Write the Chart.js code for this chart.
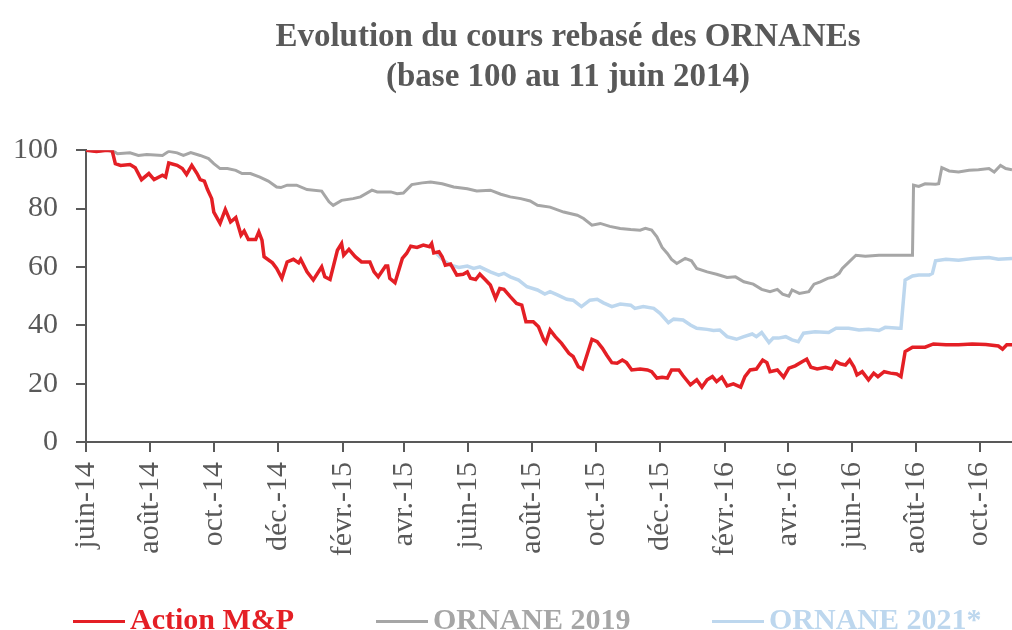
<!DOCTYPE html>
<html>
<head>
<meta charset="utf-8">
<script src="https://cdn.jsdelivr.net/npm/chart.js@4.4.1/dist/chart.umd.min.js"></script>
<style>
  html, body { margin: 0; padding: 0; background: #ffffff; }
  #wrap { position: relative; width: 1012px; height: 630px; overflow: hidden; }
  canvas { display: block; }
  .lg-item { position: absolute; top: 604px; height: 30px; }
  .lg-line { position: absolute; left: 0; top: 15.5px; width: 52px; height: 3px; }
  .lg-text { position: absolute; left: 57px; top: 0; line-height: 30px; white-space: nowrap;
             font-family: 'Liberation Serif', 'Times New Roman', serif; font-weight: bold; font-size: 30px; }
</style>
</head>
<body>
<div id="wrap">
  <canvas id="chart" width="1012" height="630"></canvas>
  <div id="legend"></div>
</div>
<script>
// x values are days since 11 June 2014 (base date of the rebasing)
const tickDays = [0, 61, 122, 183, 245, 304, 365, 426, 487, 548, 610, 670, 731, 792, 853];
const tickLabels = ['juin-14', 'août-14', 'oct.-14', 'déc.-14', 'févr.-15', 'avr.-15', 'juin-15',
  'août-15', 'oct.-15', 'déc.-15', 'févr.-16', 'avr.-16', 'juin-16', 'août-16', 'oct.-16'];

// [day, rebased value]
const actionMP = [[0,100],[10,99.6],[20,100],[25,99.8],[28,95.4],[33,94.8],[42,95.1],[47,94],[53,89.9],[60,92],
  [65,89.9],[73,91.4],[76,90.8],[79,95.6],[87,94.8],[92,93.7],[96,91.7],[101,94.8],[106,92],[109,89.9],
  [113,89.4],[116,86.5],[120,83.4],[122,78.8],[128,74.9],[133,79.7],[138,75.4],[143,76.9],[148,70.9],[151,72.3],
  [155,69.4],[162,69.4],[165,72],[168,69.2],[170,63.5],[178,61.4],[182,59.5],[187,56.1],[192,61.7],[198,62.6],
  [203,61.4],[205,62.6],[211,58.3],[217,55.5],[225,60],[228,56.6],[233,55.7],[240,65.7],[244,68],[246,64],
  [251,66],[257,63.5],[263,61.7],[271,61.7],[275,58.3],[279,56.6],[286,60.3],[288,60.3],[290,56.1],[295,54.6],
  [302,62.9],[306,64.6],[310,67.1],[316,66.7],[322,67.5],[328,66.9],[330,68],[332,64.8],[337,65.2],[340,63.5],
  [343,60.6],[348,61],[354,57.2],[360,57.5],[364,58.3],[367,56.1],[372,55.7],[376,57.5],[381,55.7],[386,53.8],
  [391,49.2],[395,52.6],[399,52.3],[405,49.8],[411,47.5],[416,46.9],[420,41.2],[427,41.2],[432,39.5],[437,35],
  [439,34],[443,38.4],[448,36.1],[454,33.8],[461,30.4],[465,29.3],[470,25.8],[474,25],[483,35.2],[488,34.4],
  [493,32.1],[497,29.8],[502,27.2],[507,27],[512,28.1],[516,27.2],[521,24.7],[529,25],[536,24.7],[540,24.1],
  [545,21.9],[550,22.2],[555,21.9],[559,24.7],[566,24.7],[570,22.7],[577,19.6],[583,21.3],[588,18.8],[593,21.3],
  [598,22.4],[602,20.7],[607,22.2],[612,19.2],[618,19.9],[625,18.8],[629,22.4],[634,24.7],[640,25],[646,28.1],
  [650,27.2],[653,24.1],[660,24.7],[666,22.2],[671,25.3],[677,26.1],[684,27.6],[688,28.4],[692,25.6],[698,25],
  [706,25.6],[712,25],[716,27.6],[720,26.8],[725,26.4],[729,28.1],[733,25.8],[736,23],[741,24.1],[747,21.3],
  [752,23.6],[756,22.4],[762,24.1],[768,23.6],[774,23.3],[778,22.4],[782,31],[789,32.5],[801,32.5],[809,33.6],
  [821,33.3],[833,33.3],[846,33.6],[859,33.4],[871,32.9],[875,31.8],[879,33.3],[884,33.3]];

const ornane2019 = [[0,100],[10,99.7],[20,100],[27,99.5],[30,98.8],[42,99.1],[50,98.2],[58,98.5],[73,98.2],[79,99.6],
  [87,99.1],[93,98.2],[100,99.2],[109,98.2],[117,97.1],[122,95.4],[128,93.7],[135,93.7],[143,93.1],[149,92],
  [157,92],[166,90.8],[174,89.4],[182,87.4],[186,87.2],[192,88],[201,88],[211,86.5],[225,86],[232,82.3],
  [236,81.1],[244,82.8],[255,83.4],[262,84],[273,86.3],[278,85.7],[291,85.7],[297,85.1],[303,85.3],[311,88.2],
  [321,88.8],[329,89.1],[340,88.5],[351,87.4],[364,86.8],[373,86],[386,86.3],[396,84.9],[405,84],[415,83.4],
  [424,82.6],[431,81.1],[443,80.5],[456,78.8],[469,77.7],[475,76.6],[483,74.3],[491,74.9],[500,73.9],[510,73.2],
  [520,72.8],[529,72.6],[534,73.2],[540,72.6],[545,70.3],[550,66.7],[555,64.6],[559,62.6],[564,61.2],[572,62.9],
  [578,62.1],[583,59.5],[593,58.3],[602,57.5],[612,56.4],[620,56.6],[628,54.9],[637,54.1],[645,52.3],[653,51.5],
  [660,52.3],[665,50.7],[671,50],[674,52.1],[681,50.9],[690,51.5],[695,54.1],[701,54.9],[708,56.1],[714,56.6],
  [719,57.8],[722,59.5],[727,61.2],[735,64],[744,63.7],[757,64],[770,64],[782,64],[789,64],[790,88],
  [795,87.6],[801,88.5],[811,88.3],[814,88.5],[817,94],[824,92.9],[833,92.5],[843,93.1],[852,93.3],[862,93.7],
  [867,92.5],[873,94.8],[878,93.7],[884,93.3]];

const ornane2021 = [[335,64.5],[341,62.3],[348,60.6],[356,59.8],[364,60.3],[370,59.5],[376,60],[386,58.3],[394,57.2],[399,57.8],
  [405,56.6],[413,55.5],[421,53.2],[431,52.1],[438,50.7],[443,51.5],[450,50.4],[459,48.9],[465,48.6],[473,46.4],
  [481,48.6],[488,48.9],[494,47.7],[502,46.4],[510,47.3],[520,46.9],[524,45.8],[532,46.4],[542,45.8],[548,44.1],
  [556,40.9],[561,42.1],[570,41.8],[577,40.1],[583,39],[593,38.6],[599,38.2],[605,38.4],[612,36.1],[621,35.2],
  [628,36.1],[636,37],[640,36.1],[645,37.5],[652,34.1],[656,35.6],[661,35.6],[668,36.1],[674,35],[680,34.4],
  [685,37.3],[696,37.8],[709,37.5],[716,39],[728,39],[738,38.4],[747,38.6],[757,38.2],[763,39.3],[776,39],
  [778,39],[782,55.5],[789,56.9],[795,57.2],[805,57.2],[808,57.8],[811,62.1],[821,62.6],[833,62.3],[846,62.9],
  [862,63.2],[871,62.6],[884,62.9]];

const seriesNames = ['Action M&P', 'ORNANE 2019', 'ORNANE 2021*'];
const seriesColors = ['#E41F25', '#A6A6A6', '#BDD7EE'];
const titleLines = ['Evolution du cours rebasé des ORNANEs', '(base 100 au 11 juin 2014)'];

const FONT = "'Liberation Serif', 'Times New Roman', serif";
const AXIS = '#595959';
const lineWidths = [3.5, 3, 3.5];
const legendLefts = [73, 376, 712];
const toPoints = arr => arr.map(p => ({ x: p[0], y: p[1] }));

const titleShift = {
  id: 'titleShift',
  afterLayout(chart) {
    const t = chart.titleBlock;
    if (t) { t.left = 124; t.right = chart.width; }
  }
};

const chart = new Chart(document.getElementById('chart'), {
  type: 'line',
  data: {
    datasets: [actionMP, ornane2019, ornane2021].map((s, i) => ({
      label: seriesNames[i],
      data: toPoints(s),
      borderColor: seriesColors[i],
      backgroundColor: seriesColors[i],
      borderWidth: lineWidths[i],
      pointRadius: 0,
      tension: 0,
      fill: false
    }))
  },
  options: {
    responsive: false,
    animation: false,
    devicePixelRatio: 1,
    layout: { padding: { left: 1, right: 0, top: 0, bottom: 0 } },
    plugins: {
      title: {
        display: true,
        text: titleLines,
        color: AXIS,
        font: { family: FONT, size: 33, weight: 'bold', lineHeight: 1.2 },
        padding: { top: 18, bottom: 53 }
      },
      legend: { display: false },
      tooltip: { enabled: false }
    },
    scales: {
      x: {
        type: 'linear',
        min: 0,
        max: 884,
        afterBuildTicks: s => { s.ticks = tickDays.map(v => ({ value: v })); },
        afterFit: s => { s.height = 188; s.paddingLeft = 0; s.paddingRight = 0; },
        grid: { display: true, drawOnChartArea: false, drawTicks: true, tickLength: 10, color: AXIS, lineWidth: 2 },
        border: { display: true, color: AXIS, width: 2 },
        ticks: {
          autoSkip: false,
          minRotation: 90,
          maxRotation: 90,
          padding: 10,
          color: AXIS,
          font: { family: FONT, size: 30 },
          callback: v => { const i = tickDays.indexOf(v); return i >= 0 ? tickLabels[i] : ''; }
        }
      },
      y: {
        min: 0,
        max: 100,
        afterFit: s => { s.width = 85; },
        grid: { display: true, drawOnChartArea: false, drawTicks: true, tickLength: 10, color: AXIS, lineWidth: 2 },
        border: { display: true, color: AXIS, width: 2 },
        ticks: { stepSize: 20, padding: 18, color: AXIS, font: { family: FONT, size: 30 } }
      }
    }
  },
  plugins: [titleShift]
});

// HTML legend built from the chart's own datasets
const legendEl = document.getElementById('legend');
chart.data.datasets.forEach((ds, i) => {
  const item = document.createElement('div');
  item.className = 'lg-item';
  item.style.left = legendLefts[i] + 'px';
  const line = document.createElement('div');
  line.className = 'lg-line';
  line.style.background = ds.borderColor;
  const text = document.createElement('span');
  text.className = 'lg-text';
  text.style.color = ds.borderColor;
  text.textContent = ds.label;
  item.appendChild(line);
  item.appendChild(text);
  legendEl.appendChild(item);
});
</script>
</body>
</html>
